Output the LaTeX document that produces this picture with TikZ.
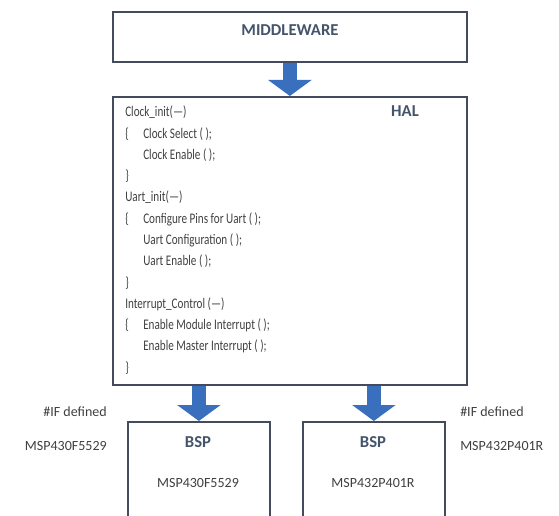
\documentclass[tikz,border=0pt]{standalone}
\usepackage{fontspec}
\setmainfont{Carlito}
\newfontfamily\narrowfont[FakeStretch=0.76]{Carlito}
\usetikzlibrary{arrows.meta}
\definecolor{boxline}{HTML}{434C5C}
\definecolor{titletext}{HTML}{44546A}
\definecolor{bodytext}{HTML}{404040}
\definecolor{arrowblue}{HTML}{3A6FBE}
\newcommand{\openbr}{\makebox[13.5pt][l]{\{}}
\newcommand{\indnt}{\hspace*{13.5pt}}
\begin{document}
\begin{tikzpicture}[x=0.75pt,y=-0.75pt,
		layer/.style={rectangle,draw=boxline,line width=1.3pt,inner sep=0pt,anchor=north west},
		title/.style={text=titletext,font=\bfseries\fontsize{12.5}{14}\selectfont},
		code/.style={text=bodytext,font=\narrowfont\fontsize{11}{13}\selectfont,inner sep=0pt,anchor=base west},
		note/.style={text=bodytext,font=\fontsize{10.5}{12}\selectfont,inner sep=0pt},
		blockarrow/.style={draw=arrowblue,line width=11pt,-{Triangle[width=32pt,length=12pt]}}
	]
	\useasboundingbox (0,0) rectangle (559,516);
	\clip (0,0) rectangle (559,516);
	% layers
	\node[layer,minimum width=265.5pt,minimum height=37.5pt] (mw) at (112,11) {};
	\node[title] (mwlabel) at (290,30) {MIDDLEWARE};
	\node[layer,minimum width=265.5pt,minimum height=216pt] (hal) at (112,96) {};
	\node[title,anchor=base] (hallabel) at (405,117) {HAL};
	\node[layer,minimum width=106.5pt,minimum height=90pt] (bspa) at (127,421) {};
	\node[layer,minimum width=106.5pt,minimum height=90pt] (bspb) at (302,421) {};
	\node[title] (bspalabel) at (198,442) {BSP};
	\node[title] (bspblabel) at (373,442) {BSP};
	\node[note] (bspaname) at (198,483) {MSP430F5529};
	\node[note] (bspbname) at (373,483) {MSP432P401R};
	% HAL functions
	\foreach \txt [count=\i] in {
			{Clock\_init(—)},
			{\openbr Clock Select ( );},
			{\indnt Clock Enable ( );},
			{\}},
			{Uart\_init(—)},
			{\openbr Configure Pins for Uart ( );},
			{\indnt Uart Configuration ( );},
			{\indnt Uart Enable ( );},
			{\}},
			{Interrupt\_Control (—)},
			{\openbr Enable Module Interrupt ( );},
			{\indnt Enable Master Interrupt ( );},
			{\}}}
		\node[code] (line\i) at (125,95.75+21.25*\i) {\txt};
	% conditions
	\node[note,anchor=east] (ifa) at (107,412) {\#IF defined};
	\node[note,anchor=east] (ifaname) at (107,446) {MSP430F5529};
	\node[note,anchor=west] (ifb) at (460,412) {\#IF defined};
	\node[note,anchor=west] (ifbname) at (460,446) {MSP432P401R};
	% arrows
	\draw[blockarrow] (mw.south) -- (hal.north);
	\draw[blockarrow] (hal.south -| bspa.north) -- (bspa.north);
	\draw[blockarrow] (hal.south -| bspb.north) -- (bspb.north);
\end{tikzpicture}
\end{document}
